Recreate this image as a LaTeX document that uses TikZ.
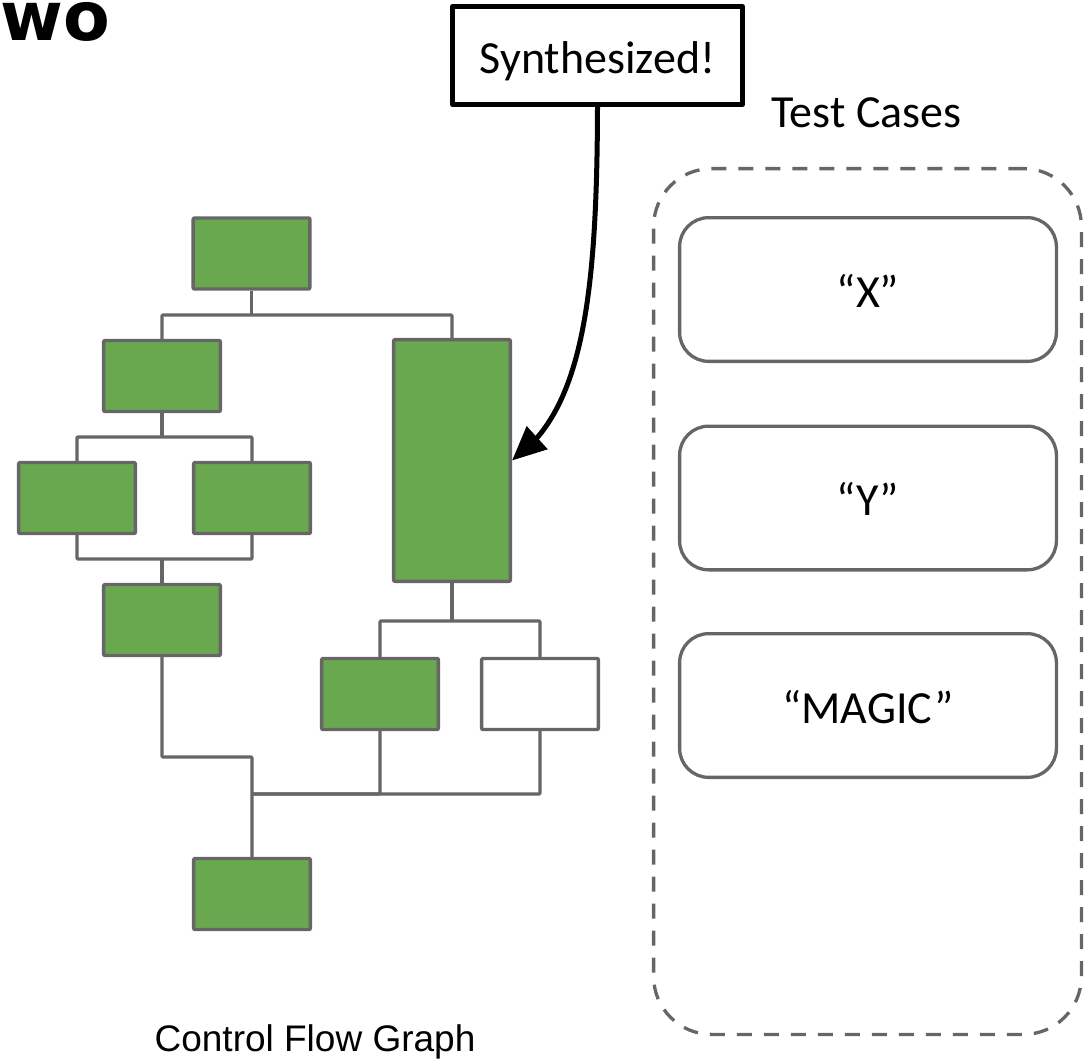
\documentclass[tikz,border=0pt]{standalone}
\usepackage{fontspec}
\setmainfont{Carlito}
\newfontfamily\arialfont{Liberation Sans}
\newfontfamily\headfont{DejaVu Sans}
\usetikzlibrary{arrows.meta,bending}
\definecolor{blockgreen}{HTML}{6AA84F}
\definecolor{edgegray}{HTML}{666666}
\tikzset{
  block/.style={draw=edgegray, fill=blockgreen, line width=3.4pt, line join=round,
    minimum width=116.7pt, minimum height=71pt, inner sep=0pt, rounded corners=1pt},
  emptyblock/.style={block, fill=white},
  flow/.style={draw=edgegray, line width=3.4pt, line join=round, rounded corners=1pt},
  bigtext/.style={font=\fontsize{46}{50}\selectfont},
  casebox/.style={draw=edgegray, line width=3.3pt, rounded corners=29pt,
    minimum width=376.8pt, minimum height=143.7pt, inner sep=0pt, bigtext,
    text height=40pt, text depth=5pt},
  container/.style={draw=edgegray, line width=3.3pt, dash pattern=on 15pt off 12pt,
    rounded corners=58pt, minimum width=427.8pt, minimum height=865.8pt, inner sep=0pt},
  callout/.style={draw=black, fill=white, line width=5pt, line join=round,
    minimum width=290pt, minimum height=98pt, inner sep=0pt, bigtext,
    text height=40pt, text depth=5pt},
  pointer/.style={draw=black, line width=5pt, -{Triangle[length=34pt,width=30pt]}},
}
\begin{document}
\begin{tikzpicture}[x=1pt, y=-1pt]
\useasboundingbox (0,0) rectangle (1089,1060);

% heading fragment
\node[anchor=base west, inner sep=0pt, font=\headfont\bfseries\fontsize{68}{70}\selectfont] (head) at (0,40) {wo};

% control flow graph blocks
\node[block] (top) at (251.5,253.5) {};
\node[block] (L1) at (162,376) {};
\node[block, minimum height=241.7pt] (R1) at (452,460.5) {};
\node[block] (L2a) at (77,498) {};
\node[block] (L2b) at (252,498) {};
\node[block] (L3) at (162,620) {};
\node[block] (R2a) at (380,694) {};
\node[emptyblock] (R2b) at (540,694) {};
\node[block] (bot) at (252,894) {};

% branch and merge points
\coordinate (j1) at (251.5,315);
\coordinate (j2) at (162,437);
\coordinate (j3) at (162,559);
\coordinate (j4) at (452,621);
\coordinate (j5) at (252,757);
\coordinate (j6) at (252,794);

% edges
\draw[flow] (top.south) -- (j1);
\draw[flow] (L1.north) |- (j1) -| (R1.north);
\draw[flow] (L1.south) -- (j2);
\draw[flow] (L2a.north) |- (j2) -| (L2b.north);
\draw[flow] (L2a.south) |- (j3) -| (L2b.south);
\draw[flow] (j3) -- (L3.north);
\draw[flow] (R1.south) -- (j4);
\draw[flow] (R2a.north) |- (j4) -| (R2b.north);
\draw[flow] (L3.south) |- (j5) -- (j6) -- (bot.north);
\draw[flow] (R2a.south) |- (j6);
\draw[flow] (R2b.south) |- (j6);

\node[anchor=base, inner sep=0pt, font=\arialfont\fontsize{37}{40}\selectfont] (cfgname) at (315,1051) {Control Flow Graph};

% synthesized callout
\node[callout] (synth) at (597.5,55.5) {Synthesized!};
\draw[pointer] (synth.south) .. controls (597,300) and (582,412) .. (R1.east);

% test cases
\node[anchor=base, inner sep=0pt, bigtext] (tcname) at (866.5,127) {Test Cases};
\node[container] (tests) at (867.5,601.5) {};
\node[casebox] (cx) at (868,289.5) {“X”};
\node[casebox] (cy) at (868,498) {“Y”};
\node[casebox] (cm) at (868,705.5) {“MAGIC”};
\end{tikzpicture}
\end{document}
